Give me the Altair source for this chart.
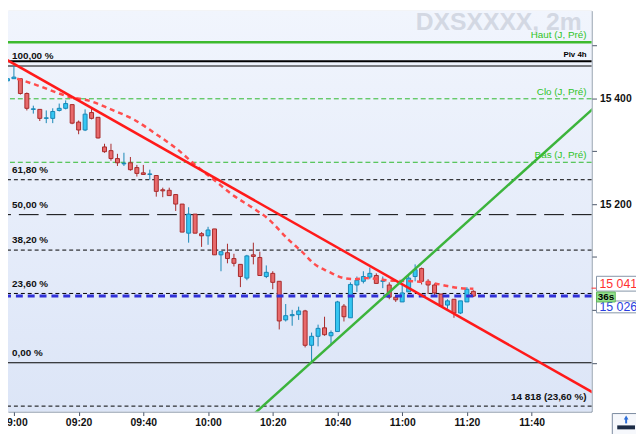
import altair as alt
import pandas as pd

# Data

DAY = '2024-01-02 '
FIRST_CANDLE = '08:58'

OPEN = [15433, 15437, 15437, 15409, 15379, 15379, 15362, 15362, 15377, 15381,
        15388, 15355, 15340, 15373, 15364, 15308, 15301, 15286, 15276, 15278,
        15269, 15259, 15256, 15254, 15227, 15226, 15218, 15200, 15145, 15181,
        15144, 15140, 15153, 15104, 15108, 15097, 15086, 15060, 15104, 15099,
        15063, 15069, 15054, 14981, 14989, 14991, 14998, 14933, 14950, 14966,
        14951, 14959, 15007, 14985, 15047, 15054, 15062, 15065, 15054, 15047,
        15024, 15015, 15034, 15063, 15078, 15054, 15047, 15030, 15009, 15020,
        14994, 15015, 15035]
HIGH = [15444, 15461, 15437, 15411, 15386, 15379, 15377, 15381, 15390, 15396,
        15388, 15358, 15379, 15381, 15364, 15314, 15314, 15295, 15297, 15289,
        15274, 15274, 15265, 15254, 15231, 15231, 15218, 15200, 15194, 15181,
        15147, 15157, 15153, 15110, 15125, 15106, 15086, 15104, 15127, 15110,
        15084, 15073, 15054, 15011, 15000, 15006, 15000, 14957, 14972, 14987,
        14961, 15017, 15011, 15052, 15063, 15073, 15080, 15069, 15063, 15052,
        15028, 15050, 15065, 15086, 15080, 15058, 15050, 15030, 15020, 15020,
        15017, 15043, 15037]
LOW = [15431, 15437, 15407, 15377, 15371, 15357, 15353, 15353, 15375, 15379,
       15351, 15332, 15338, 15360, 15324, 15297, 15282, 15272, 15272, 15263,
       15252, 15256, 15246, 15214, 15213, 15216, 15187, 15147, 15127, 15145,
       15119, 15123, 15104, 15073, 15088, 15082, 15043, 15056, 15086, 15065,
       15060, 15039, 14963, 14978, 14970, 14981, 14929, 14899, 14931, 14951,
       14933, 14959, 14978, 14985, 15034, 15050, 15058, 15050, 15041, 15020,
       15015, 15015, 15034, 15054, 15048, 15030, 15026, 15007, 15002, 14985,
       14992, 15015, 15024]
CLOSE = [15437, 15440, 15409, 15381, 15380, 15362, 15363, 15375, 15381, 15390,
         15353, 15340, 15370, 15362, 15325, 15299, 15286, 15278, 15277, 15265,
         15258, 15256, 15257, 15224, 15225, 15216, 15200, 15147, 15181, 15145,
         15140, 15151, 15104, 15110, 15097, 15088, 15063, 15102, 15101, 15065,
         15071, 15052, 14979, 14989, 14991, 14998, 14933, 14950, 14965, 14953,
         14957, 15015, 14987, 15048, 15056, 15063, 15069, 15050, 15055, 15024,
         15019, 15032, 15060, 15076, 15054, 15047, 15032, 15007, 15017, 14994,
         15017, 15039, 15026]

MA_TIMES = ['09:01', '09:07', '09:17', '09:24', '09:30', '09:37', '09:44', '09:50',
            '09:57', '10:02', '10:07', '10:15', '10:18', '10:25', '10:29', '10:33',
            '10:37', '10:42', '10:45', '10:49', '10:57', '11:04', '11:10', '11:14',
            '11:18', '11:22']
MA_VALUES = [15437, 15425, 15403, 15394, 15379, 15360, 15332, 15306,
             15269, 15245, 15220, 15188, 15175, 15132, 15110, 15086,
             15073, 15060, 15058, 15060, 15055, 15054, 15050, 15045,
             15041, 15040]

RED_TREND_TIMES = ['08:58', '12:00']
RED_TREND_VALUES = [15472, 14840]
GREEN_TREND_TIMES = ['10:14', '12:00']
GREEN_TREND_VALUES = [14802, 15386]

FIB_LABELS = ['100,00 %', '61,80 %', '50,00 %', '38,20 %', '23,60 %', '0,00 %']
FIB_LEVELS = [15461, 15246, 15180, 15113, 15031, 14900]
EXTENSION_LABEL = '14 818 (23,60 %)'
EXTENSION_LEVEL = 14818

DAILY_LABELS = ['Haut (J, Pré)', 'Clo (J, Pré)', 'Bas (J, Pré)']
DAILY_LEVELS = [15506, 15399, 15279]
PIVOT_LABEL = 'Piv 4h'
PIVOT_LEVEL = 15470

LAST_PRICE = 15026
MA_LAST = 15041
COUNTDOWN = '36s'
WATERMARK = 'DXSXXXX, 2m'

X_TICKS = ['09:00', '09:20', '09:40', '10:00', '10:20', '10:40', '11:00', '11:20', '11:40']
Y_TICKS = [14900, 15000, 15100, 15200, 15300, 15400, 15500]
Y_LABELED = [15200, 15400]

# Styling

FONT = 'Liberation Sans'
W, H = 591, 406
RED_FILL, RED_EDGE = '#e8696b', '#a82a2a'
CYAN_FILL, CYAN_EDGE = '#35c6f2', '#1786b6'
LIME = '#2fc41f'
AXIS_GREY = '#8090a4'


def _ts(hhmm):
  return pd.Timestamp(DAY + hhmm)


def _dt(hhmm, seconds=0):
  h, m = hhmm.split(':')
  return alt.DateTime(year=2024, month=1, date=2, hours=int(h), minutes=int(m), seconds=seconds)


X_SCALE = alt.Scale(domain=[_dt('08:59', 42), _dt('11:57')])
Y_SCALE = alt.Scale(domain=[14807.7, 15565.6], nice=False, zero=False)

X_AXIS = alt.Axis(
  values=[_dt(t) for t in X_TICKS], format='%H:%M', title=None, grid=False,
  labelFlush=False, labelOverlap=False, domainColor=AXIS_GREY, tickColor='#4a5568',
  tickSize=4, labelFont=FONT, labelFontSize=10.5, labelFontWeight='bold',
  labelColor='#111111', labelPadding=2
)
label_test = ' || '.join(f'datum.value == {v}' for v in Y_LABELED)
Y_AXIS = alt.Axis(
  orient='right', values=Y_TICKS, title=None, grid=False,
  labelExpr=f"({label_test}) ? replace(format(datum.value, ','), ',', ' ') : ''",
  domainColor=AXIS_GREY, tickColor='#4a5568', tickSize=5,
  labelFont=FONT, labelFontSize=10.5, labelFontWeight='bold',
  labelColor='#111111', labelPadding=3
)


def _x(field):
  return alt.X(field, type='temporal', scale=X_SCALE, axis=X_AXIS)


def _y(field):
  return alt.Y(field, type='quantitative', scale=Y_SCALE, axis=Y_AXIS)


# Tables

times = pd.date_range(DAY + FIRST_CANDLE, periods=len(OPEN), freq='2min')
candles = pd.DataFrame({'t': times, 'open': OPEN, 'high': HIGH, 'low': LOW, 'close': CLOSE})
candles['dir'] = ['up' if c > o else 'down' for o, c in zip(OPEN, CLOSE)]

ma = pd.DataFrame({'t': [_ts(t) for t in MA_TIMES], 'price': MA_VALUES})
red_trend = pd.DataFrame({'t': [_ts(t) for t in RED_TREND_TIMES], 'price': RED_TREND_VALUES})
green_trend = pd.DataFrame({'t': [_ts(t) for t in GREEN_TREND_TIMES], 'price': GREEN_TREND_VALUES})
fib = pd.DataFrame({'price': FIB_LEVELS, 'label': FIB_LABELS})
daily = pd.DataFrame({'price': DAILY_LEVELS, 'label': DAILY_LABELS})
one = pd.DataFrame({'k': [0]})


def _levels(prices):
  return alt.Chart(pd.DataFrame({'price': prices}))


# Layers

background = alt.Chart(one).mark_rect(
  fill=alt.LinearGradient(
    gradient='linear', x1=0, x2=0, y1=0, y2=1,
    stops=[alt.GradientStop(color='#f1f5fd', offset=0),
           alt.GradientStop(color='#dce5f7', offset=1)]
  )
).encode(x=alt.value(0), x2=alt.value(W), y=alt.value(0), y2=alt.value(H))

watermark = alt.Chart(one).mark_text(
  text=WATERMARK, font=FONT, fontSize=25, fontWeight='bold', color='#d3d8e3',
  align='right', baseline='alphabetic'
).encode(x=alt.value(581), y=alt.value(20))

haut = _levels(DAILY_LEVELS[:1]).mark_rule(color='#3dba2e', strokeWidth=2.5).encode(y=_y('price:Q'))
pivot = _levels([PIVOT_LEVEL]).mark_rule(color='#000000', strokeWidth=2).encode(y=_y('price:Q'))
green_dashed = _levels(DAILY_LEVELS[1:]).mark_rule(
  color='#2db92d', strokeWidth=1, strokeDash=[5, 3]
).encode(y=_y('price:Q'))
fib_solid = _levels([FIB_LEVELS[0], FIB_LEVELS[-1]]).mark_rule(
  color='#000000', strokeWidth=1
).encode(y=_y('price:Q'))
fib_dashed = _levels([FIB_LEVELS[1], FIB_LEVELS[3], FIB_LEVELS[4], EXTENSION_LEVEL]).mark_rule(
  color='#000000', strokeWidth=1, strokeDash=[4, 3]
).encode(y=_y('price:Q'))
fib_half = _levels([FIB_LEVELS[2]]).mark_rule(
  color='#000000', strokeWidth=1, strokeDash=[20, 8]
).encode(y=_y('price:Q'))

stroke_scale = alt.Scale(domain=['up', 'down'], range=[CYAN_EDGE, RED_EDGE])
fill_scale = alt.Scale(domain=['up', 'down'], range=[CYAN_FILL, RED_FILL])

wicks = alt.Chart(candles).mark_rule(strokeWidth=1, clip=True).encode(
  x=_x('t'), y=_y('low'), y2='high',
  stroke=alt.Stroke('dir:N', scale=stroke_scale, legend=None)
)
bodies = alt.Chart(candles).mark_bar(size=4, strokeWidth=1, clip=True).encode(
  x=_x('t'), y=_y('open'), y2='close',
  fill=alt.Fill('dir:N', scale=fill_scale, legend=None),
  stroke=alt.Stroke('dir:N', scale=stroke_scale, legend=None)
)

last_line = _levels([LAST_PRICE]).mark_rule(
  color='#3131d8', strokeWidth=3, strokeDash=[7, 5]
).encode(y=_y('price:Q'))

ma_line = alt.Chart(ma).mark_line(
  color='#ff4d4d', strokeWidth=2.5, strokeDash=[5, 4], interpolate='monotone', clip=True
).encode(x=_x('t'), y=_y('price'))

red_line = alt.Chart(red_trend).mark_line(color='#ff1a1a', strokeWidth=2.5, clip=True).encode(
  x=_x('t'), y=_y('price')
)
green_line = alt.Chart(green_trend).mark_line(color='#3cb43c', strokeWidth=2.5, clip=True).encode(
  x=_x('t'), y=_y('price')
)

fib_text = alt.Chart(fib).mark_text(
  font=FONT, fontSize=10, fontWeight='bold', color='#111111',
  align='left', baseline='alphabetic', dy=-7
).encode(x=alt.value(4), y=_y('price:Q'), text='label:N')

daily_text = alt.Chart(daily).mark_text(
  font=FONT, fontSize=10, color=LIME, align='right', baseline='alphabetic', dy=-4
).encode(x=alt.value(586), y=_y('price:Q'), text='label:N')

pivot_text = _levels([PIVOT_LEVEL]).mark_text(
  text=PIVOT_LABEL, font=FONT, fontSize=8, fontWeight='bold', color='#000000',
  align='right', baseline='alphabetic', dy=-4
).encode(x=alt.value(586), y=_y('price:Q'))

extension_text = _levels([EXTENSION_LEVEL]).mark_text(
  text=EXTENSION_LABEL, font=FONT, fontSize=10, fontWeight='bold', color='#111111',
  align='right', baseline='alphabetic', dy=-6
).encode(x=alt.value(586), y=_y('price:Q'))

# Price tags on the right scale

ma_tick = _levels([MA_LAST]).mark_rule(color='#ff3030', strokeWidth=1).encode(
  y=_y('price:Q'), x=alt.value(W), x2=alt.value(W + 6)
)
red_box = alt.Chart(one).mark_rect(fill='#ffffff', stroke='#8494a8', strokeWidth=1).encode(
  x=alt.value(596), x2=alt.value(640), y=alt.value(269), y2=alt.value(284)
)
blue_box = alt.Chart(one).mark_rect(fill='#ffffff', stroke='#8494a8', strokeWidth=1).encode(
  x=alt.value(596), x2=alt.value(640), y=alt.value(294), y2=alt.value(306)
)
red_tag = _levels([MA_LAST]).mark_text(
  text=f'{MA_LAST:,}'.replace(',', ' '), font=FONT, fontSize=12.5, color='#ff3030',
  align='left', baseline='middle', dy=-4
).encode(x=alt.value(599), y=_y('price:Q'))
blue_tag = _levels([LAST_PRICE]).mark_text(
  text=f'{LAST_PRICE:,}'.replace(',', ' '), font=FONT, fontSize=12.5, color='#2a3ee0',
  align='left', baseline='middle', dy=11
).encode(x=alt.value(599), y=_y('price:Q'))
timer_box = alt.Chart(one).mark_rect(fill='#93e08c', stroke='#62b85a', strokeWidth=1).encode(
  x=alt.value(596), x2=alt.value(615), y=alt.value(285), y2=alt.value(295)
)
timer_text = alt.Chart(one).mark_text(
  text=COUNTDOWN, font=FONT, fontSize=10, fontWeight='bold', color='#000000',
  align='center', baseline='middle'
).encode(x=alt.value(605.5), y=alt.value(290.5))

# Small scroll button, bottom right

button = alt.Chart(one).mark_rect(fill='#f6f8fc', stroke='#7a8aa0', strokeWidth=1).encode(
  x=alt.value(612), x2=alt.value(640), y=alt.value(408), y2=alt.value(430)
)
button_arrow = alt.Chart(one).mark_point(
  shape='triangle-up', filled=True, color='#2f6fd8', size=22, opacity=1
).encode(x=alt.value(626), y=alt.value(412))
button_stem = alt.Chart(one).mark_rule(color='#2f6fd8', strokeWidth=2).encode(
  x=alt.value(626), y=alt.value(413), y2=alt.value(418)
)
button_bar = alt.Chart(one).mark_rect(fill='#1c2b45').encode(
  x=alt.value(617), x2=alt.value(635), y=alt.value(420), y2=alt.value(424)
)

chart = alt.layer(
  background, watermark,
  haut, pivot, green_dashed, fib_solid, fib_dashed, fib_half,
  wicks, bodies, last_line, ma_line, red_line, green_line,
  fib_text, daily_text, pivot_text, extension_text,
  ma_tick, red_box, blue_box, red_tag, blue_tag, timer_box, timer_text,
  button, button_arrow, button_stem, button_bar
).properties(
  width=W, height=H,
  autosize=alt.AutoSizeParams(type='none'),
  padding={'left': 0, 'top': 0, 'right': 45, 'bottom': 20}
).configure_view(
  strokeWidth=0
).configure(
  background='#ffffff'
)

chart.save('out.html', embed_options={'renderer': 'svg', 'actions': False})
